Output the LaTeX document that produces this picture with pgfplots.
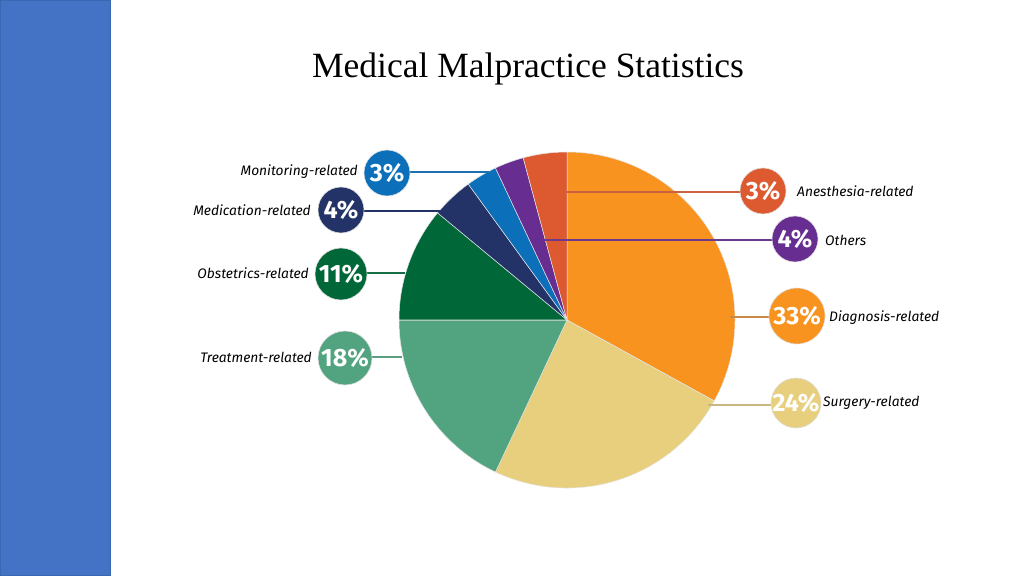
\documentclass[border=0pt]{standalone}
\usepackage{pgfplots}
\pgfplotsset{compat=1.18}
\usepackage{fontspec}
\setmainfont{Liberation Serif}
\newfontfamily\labfont{Fira Sans}
\definecolor{sidebar}{HTML}{4472C4}
\definecolor{sideedge}{HTML}{3B66B2}
\definecolor{cDiag}{HTML}{F7931E}
\definecolor{cSurg}{HTML}{E8CF7D}
\definecolor{cTreat}{HTML}{52A37F}
\definecolor{cObst}{HTML}{006838}
\definecolor{cMed}{HTML}{233367}
\definecolor{cMon}{HTML}{0B70B9}
\definecolor{cOth}{HTML}{672D91}
\definecolor{cAnes}{HTML}{DD5A30}
% pie centre (567,256), radius 168; values in percent, cumulative from the top, clockwise
\newcommand\slice[3]{\fill[#3,draw=white!80!gray,line width=0.5pt] (axis cs:567,256) -- ++({90-3.6*(#1)}:168pt) arc[start angle={90-3.6*(#1)}, end angle={90-3.6*(#2)}, radius=168pt] -- cycle;}
\newcommand\bubble[5]{% x, y, radius, colour, text
  \fill[#4,draw=white!75!gray,line width=0.6pt] (axis cs:#1,#2) circle[radius=#3pt];
  \node[text=white,font=\labfont\bfseries\fontsize{25}{25}\selectfont,inner sep=0pt] at (axis cs:#1,#2) {#5};}
\begin{document}
\begin{tikzpicture}
\begin{axis}[width=1024pt,height=576pt,scale only axis,
  xmin=0,xmax=1024,ymin=0,ymax=576,hide axis,clip=false]
\fill[white] (axis cs:0,0) rectangle (axis cs:1024,576);
\fill[sidebar,draw=sideedge,line width=1pt] (axis cs:0.5,0.5) rectangle (axis cs:110,575.5);
\node[font=\fontsize{35.5}{40}\selectfont,anchor=base] at (axis cs:528,498) {Medical Malpractice Statistics};
% slices as drawn: Diagnosis 33, Surgery 24, Treatment 18, Obstetrics 11, Medication 4, Monitoring 3, Others 2.8, Anesthesia 4.2
\slice{0}{33}{cDiag}
\slice{33}{57}{cSurg}
\slice{57}{75}{cTreat}
\slice{75}{86}{cObst}
\slice{86}{90}{cMed}
\slice{90}{93}{cMon}
\slice{93}{95.8}{cOth}
\slice{95.8}{100}{cAnes}
% leader lines
\draw[line width=2pt,color=cMon!85!gray] (axis cs:400,404) -- (axis cs:489,404);
\draw[line width=2pt,color=cMed] (axis cs:355,365) -- (axis cs:440,365);
\draw[line width=2pt,color=cObst!80!gray] (axis cs:355,303) -- (axis cs:405,303);
\draw[line width=2pt,color=cTreat!85!gray] (axis cs:355,219) -- (axis cs:402,219);
\draw[line width=2pt,color=cAnes!80!gray] (axis cs:567,384) -- (axis cs:750,384);
\draw[line width=2pt,color=cOth!85!gray] (axis cs:545,336) -- (axis cs:785,336);
\draw[line width=2pt,color=cDiag!60!gray] (axis cs:730,259) -- (axis cs:785,259);
\draw[line width=2pt,color=cSurg!70!gray] (axis cs:708,171) -- (axis cs:785,171);
% bubbles
\bubble{387}{403}{23}{cMon}{3\%}
\bubble{341}{366}{23}{cMed}{4\%}
\bubble{341}{302}{26}{cObst}{11\%}
\bubble{345}{218}{27}{cTreat}{18\%}
\bubble{763}{385}{23}{cAnes}{3\%}
\bubble{795}{337}{23}{cOth}{4\%}
\bubble{797}{260}{28}{cDiag}{33\%}
\bubble{796}{173}{25}{cSurg}{24\%}
% labels
\begin{scope}[every node/.style={font=\labfont\itshape\fontsize{13.8}{15}\selectfont,inner sep=0pt}]
\node[anchor=east] at (axis cs:358,404) {Monitoring-related};
\node[anchor=east] at (axis cs:311,366) {Medication-related};
\node[anchor=east] at (axis cs:309,303) {Obstetrics-related};
\node[anchor=east] at (axis cs:312,219) {Treatment-related};
\node[anchor=west] at (axis cs:797,385) {Anesthesia-related};
\node[anchor=west] at (axis cs:825,336) {Others};
\node[anchor=west] at (axis cs:829,258) {Diagnosis-related};
\node[anchor=west] at (axis cs:823,173) {Surgery-related};
\end{scope}
\end{axis}
\end{tikzpicture}
\end{document}
